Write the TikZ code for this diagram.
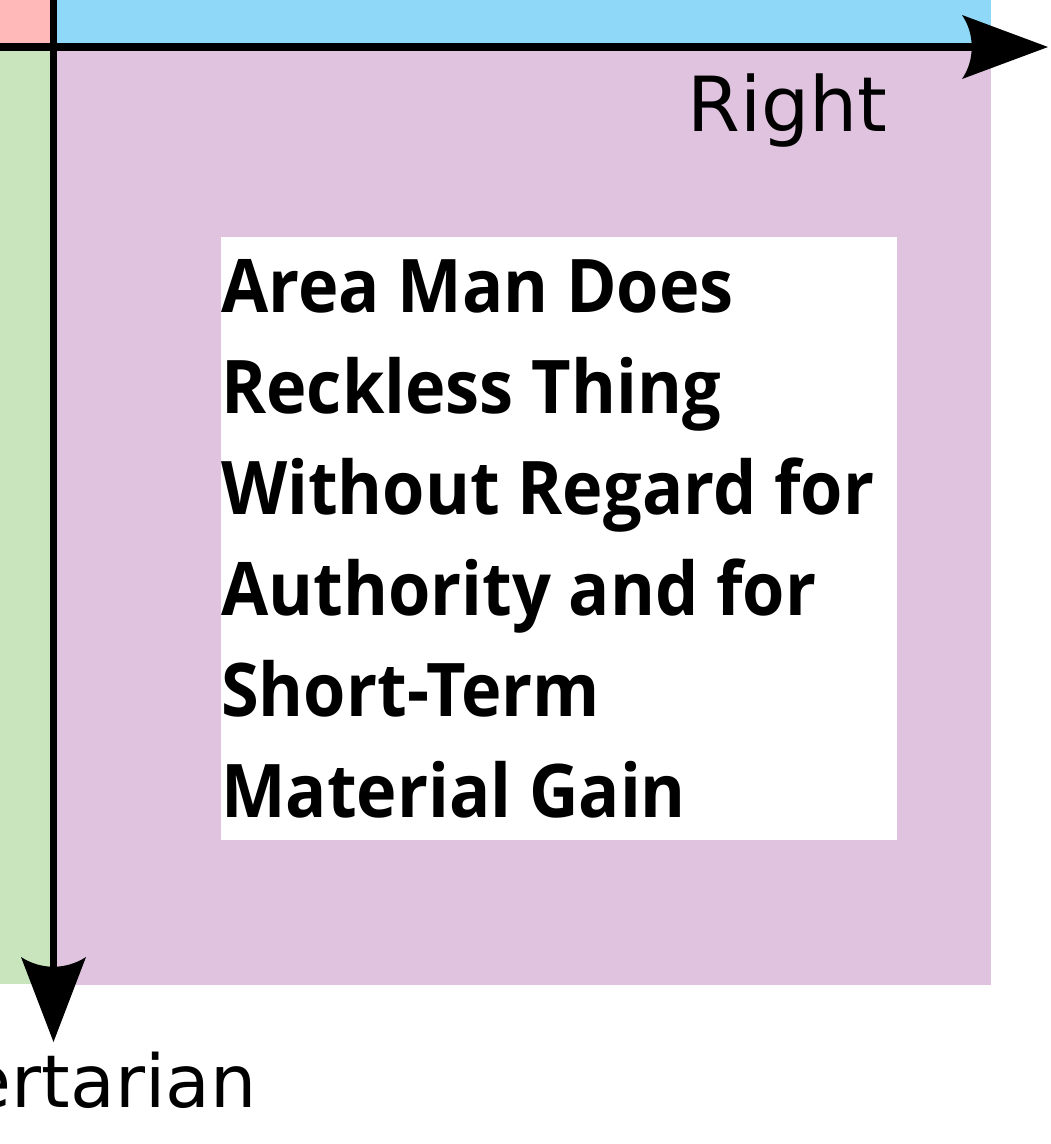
\documentclass[tikz,border=0pt]{standalone}
\usepackage{fontspec}
\newfontfamily\axisfont{DejaVu Sans}
\newfontfamily\boxfont[FakeStretch=0.925]{Open Sans Bold}
\definecolor{qpink}{RGB}{255,185,185}
\definecolor{qblue}{RGB}{144,216,247}
\definecolor{qgreen}{RGB}{201,229,189}
\definecolor{qpurple}{RGB}{224,196,223}
\tikzset{
  axisline/.style={line width=7.5pt, draw=black},
  arrowhead/.style={fill=black, draw=none},
  axislabel/.style={inner sep=0pt, font=\axisfont\fontsize{76}{90}\selectfont},
  boxline/.style={inner sep=0pt, anchor=base west, font=\boxfont\fontsize{74}{100}\selectfont},
}
\begin{document}
\begin{tikzpicture}[x=1pt,y=-1pt]
\useasboundingbox (0,0) rectangle (1051,1144);
\clip (0,0) rectangle (1051,1144);
% quadrants
\fill[qpink] (0,0) rectangle (53.5,47);
\fill[qblue] (53.5,0) rectangle (991,47);
\fill[qgreen] (0,47) rectangle (53.5,984);
\fill[qpurple] (53.5,47) rectangle (991,985);
% white box
\fill[white] (221,237) rectangle (897,840);
% axes
\coordinate (hstart) at (0,47);
\coordinate (hend) at (975,47);
\coordinate (vstart) at (53.5,0);
\coordinate (vend) at (53.5,970);
\draw[axisline] (hstart) -- (hend);
\draw[axisline] (vstart) -- (vend);
% arrowheads
\fill[arrowhead] (962,15) -- (1048,47) -- (962,79) .. controls (975,60) and (975,34) .. (962,15) -- cycle;
\fill[arrowhead] (21,957) -- (53.5,1042) -- (86,957) .. controls (66,970) and (41,970) .. (21,957) -- cycle;
% labels
\node[axislabel, anchor=base west] (right) at (687,131) {Right};
\node[axislabel, anchor=base east, font=\axisfont\fontsize{73}{90}\selectfont] (lib) at (256.5,1107) {Libertarian};
% box text
\node[boxline] (l1) at (221,312.7) {Area Man Does};
\node[boxline] (l2) at (221,413.6) {Reckless Thing};
\node[boxline] (l3) at (221,514.5) {Without Regard for};
\node[boxline] (l4) at (221,615.4) {Authority and for};
\node[boxline] (l5) at (221,716.3) {Short-Term};
\node[boxline] (l6) at (221,817.2) {Material Gain};
\end{tikzpicture}
\end{document}
